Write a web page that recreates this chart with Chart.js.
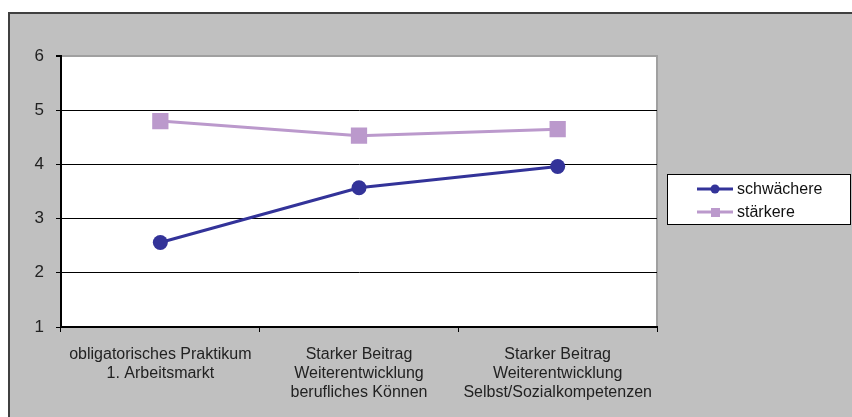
<!DOCTYPE html>
<html>
<head>
<meta charset="utf-8">
<script src="https://cdn.jsdelivr.net/npm/chart.js@4"></script>
<style>
  html, body { margin: 0; padding: 0; background: #fff; }
  #wrap { position: absolute; left: 0; top: 0; width: 852px; height: 417px; }
</style>
</head>
<body>
<div id="wrap"><canvas id="lineChart" width="852" height="417"></canvas></div>
<script>
// chart data
const categories = [
    ['obligatorisches Praktikum', '1. Arbeitsmarkt'],
    ['Starker Beitrag', 'Weiterentwicklung', 'berufliches Können'],
    ['Starker Beitrag', 'Weiterentwicklung', 'Selbst/Sozialkompetenzen']
];
const seriesNames = ['schwächere', 'stärkere'];
const schwaechere = [2.56, 3.57, 3.96];
const staerkere = [4.80, 4.53, 4.65];
const yTicks = [1, 2, 3, 4, 5, 6];

const blue = '#333399';
const lilac = '#BB99CC';

// gray frame, plot area and legend box
const frame = {
    id: 'frame',
    beforeDraw(chart) {
        const c = chart.ctx;
        const a = chart.chartArea;
        c.save();
        c.fillStyle = '#C0C0C0';
        c.fillRect(8, 12, chart.width - 8, chart.height - 12);
        c.fillStyle = '#404040';
        c.fillRect(8, 12, chart.width - 8, 2);
        c.fillRect(8, 12, 2, chart.height - 12);
        c.fillStyle = '#fff';
        c.fillRect(a.left, a.top, a.right - a.left, a.bottom - a.top);
        c.strokeStyle = '#A0A0A0';
        c.lineWidth = 2;
        c.beginPath();
        c.moveTo(a.left, a.top);
        c.lineTo(a.right, a.top);
        c.lineTo(a.right, a.bottom);
        c.stroke();
        c.restore();
    },
    afterDraw(chart) {
        // legend like Excel: line with marker, then label
        const c = chart.ctx;
        const box = { x: 667, y: 174, w: 183, h: 50 };
        c.save();
        c.fillStyle = '#fff';
        c.fillRect(box.x, box.y, box.w, box.h);
        c.strokeStyle = '#000';
        c.lineWidth = 1;
        c.strokeRect(box.x + 0.5, box.y + 0.5, box.w, box.h);
        chart.data.datasets.forEach((ds, i) => {
            const y = 189 + i * 23;
            c.strokeStyle = ds.borderColor;
            c.lineWidth = 3;
            c.beginPath();
            c.moveTo(697, y);
            c.lineTo(733, y);
            c.stroke();
            c.fillStyle = ds.backgroundColor;
            if (ds.pointStyle === 'circle') {
                c.beginPath();
                c.arc(715, y, 4.5, 0, Math.PI * 2);
                c.fill();
            } else {
                c.fillRect(711, y - 4, 9, 9);
            }
            c.fillStyle = '#111';
            c.font = '16px "Liberation Sans", Arial, sans-serif';
            c.textBaseline = 'middle';
            c.fillText(ds.label, 737, y + 1);
        });
        c.restore();
    }
};

document.addEventListener('DOMContentLoaded', function () {
    const ctx = document.getElementById('lineChart').getContext('2d');
    const font = { family: '"Liberation Sans", Arial, sans-serif', size: 16 };

    new Chart(ctx, {
        type: 'line',
        data: {
            labels: categories,
            datasets: [{
                label: seriesNames[0],
                data: schwaechere,
                borderColor: blue,
                backgroundColor: blue,
                borderWidth: 3,
                pointStyle: 'circle',
                pointRadius: 7.5,
                pointHoverRadius: 7.5,
                pointBorderWidth: 0
            }, {
                label: seriesNames[1],
                data: staerkere,
                borderColor: lilac,
                backgroundColor: lilac,
                borderWidth: 3,
                pointStyle: 'rect',
                pointRadius: 11.5,
                pointHoverRadius: 11.5,
                pointBorderWidth: 0
            }]
        },
        options: {
            responsive: false,
            animation: false,
            layout: { padding: { left: 0, top: 56, right: 195, bottom: 0 } },
            plugins: {
                legend: { display: false },
                tooltip: { enabled: false }
            },
            scales: {
                x: {
                    offset: true,
                    afterFit: function (axis) { axis.height = 90; },
                    grid: {
                        offset: true,
                        drawOnChartArea: false,
                        drawTicks: true,
                        tickLength: 5,
                        tickColor: '#000',
                        lineWidth: 1
                    },
                    border: { color: '#000', width: 2 },
                    ticks: {
                        color: '#222',
                        font: font,
                        padding: 13,
                        maxRotation: 0,
                        autoSkip: false
                    }
                },
                y: {
                    min: yTicks[0],
                    max: yTicks[yTicks.length - 1],
                    afterFit: function (axis) { axis.width = 61; },
                    afterBuildTicks: function (axis) {
                        axis.ticks = yTicks.map(v => ({ value: v }));
                    },
                    grid: {
                        color: function (c) { return c.tick && c.tick.value === 6 ? '#A0A0A0' : '#000'; },
                        lineWidth: function (c) { return c.tick && c.tick.value === 6 ? 2 : 1; },
                        tickLength: 5,
                        tickColor: '#000'
                    },
                    border: { color: '#000', width: 2 },
                    ticks: {
                        color: '#222',
                        font: { family: font.family, size: 17 },
                        padding: 12
                    }
                }
            }
        },
        plugins: [frame]
    });
});
</script>
</body>
</html>
